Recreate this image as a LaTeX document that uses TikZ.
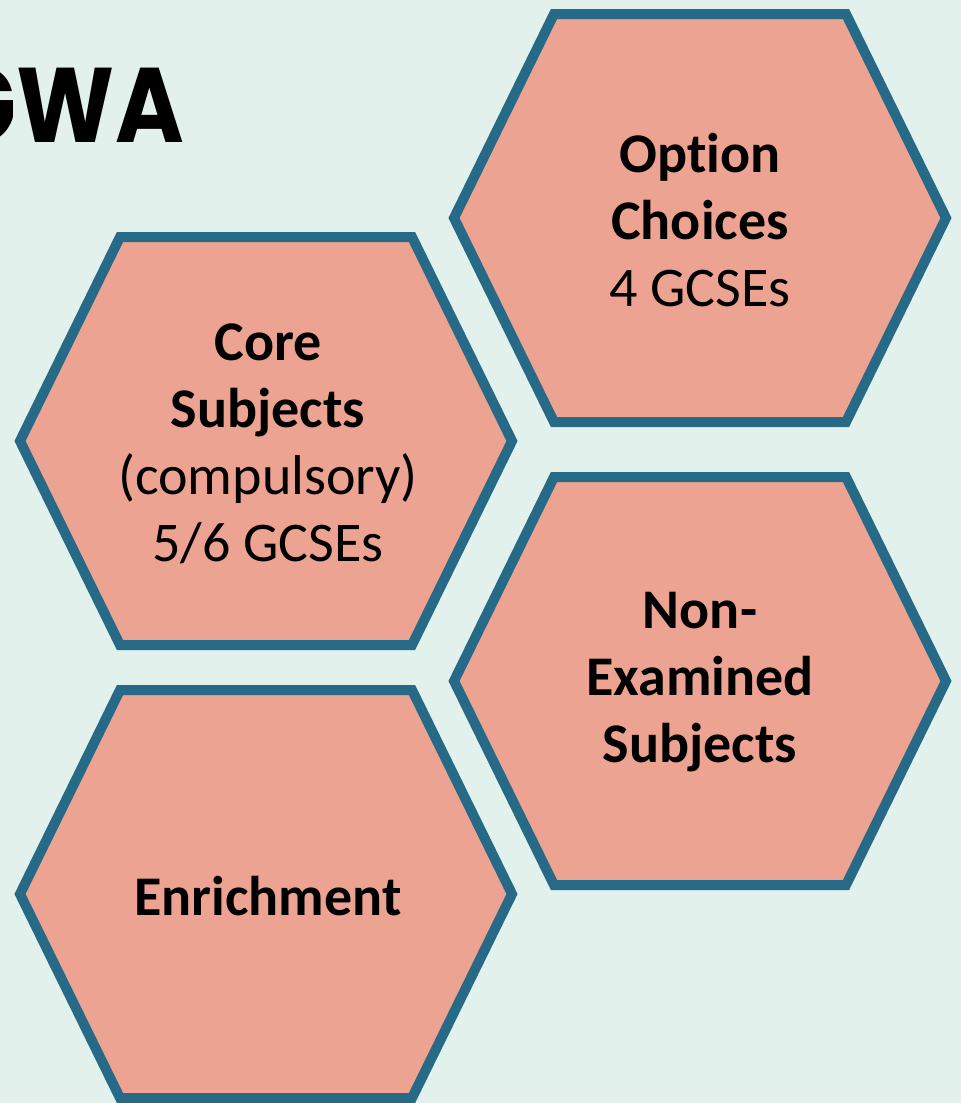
\documentclass[tikz,border=0pt]{standalone}
\usepackage{fontspec}
\setmainfont{Carlito}[Ligatures=NoCommon]
\newfontfamily\titlefont{Poppins}

\definecolor{bgmint}{HTML}{E2F1EC}
\definecolor{hexfill}{HTML}{EDA391}
\definecolor{hexedge}{HTML}{266A87}

\begin{document}
\begin{tikzpicture}[x=1pt,y=-1pt]
      \def\hw{246}
      \def\hh{204}
      \def\tw{146}
      \tikzset{hexcell/.style={draw=hexedge, fill=hexfill, line width=10pt, line join=miter},
               hexlabel/.style={align=center, font=\fontsize{56}{67}\selectfont, inner sep=0pt}}

      \fill[bgmint] (0,0) rectangle (961,1103);
      \clip (0,0) rectangle (961,1103);

      \node[anchor=base east, inner sep=0pt, xscale=0.88, font=\titlefont\bfseries\fontsize{106}{110}\selectfont] (title) at (184,142) {GWA};

      % four cells
      \foreach \cx/\cy in {700/218, 266/441, 700/681, 266/894}
        \draw[hexcell] (\cx-\hw,\cy) -- (\cx-\tw,\cy-\hh) -- (\cx+\tw,\cy-\hh)
          -- (\cx+\hw,\cy) -- (\cx+\tw,\cy+\hh) -- (\cx-\tw,\cy+\hh) -- cycle;

      \node[hexlabel] (option) at (700,220) {\textbf{Option}\\\textbf{Choices}\\4 GCSEs};
      \node[hexlabel] (core) at (268,444) {\textbf{Core}\\\textbf{Subjects}\\(compulsory)\\5/6 GCSEs};
      \node[hexlabel] (nonexam) at (700,682) {\textbf{Non-}\\\textbf{Examined}\\\textbf{Subjects}};
      \node[hexlabel] (enrich) at (268,896) {\textbf{Enrichment}};

\end{tikzpicture}
\end{document}
